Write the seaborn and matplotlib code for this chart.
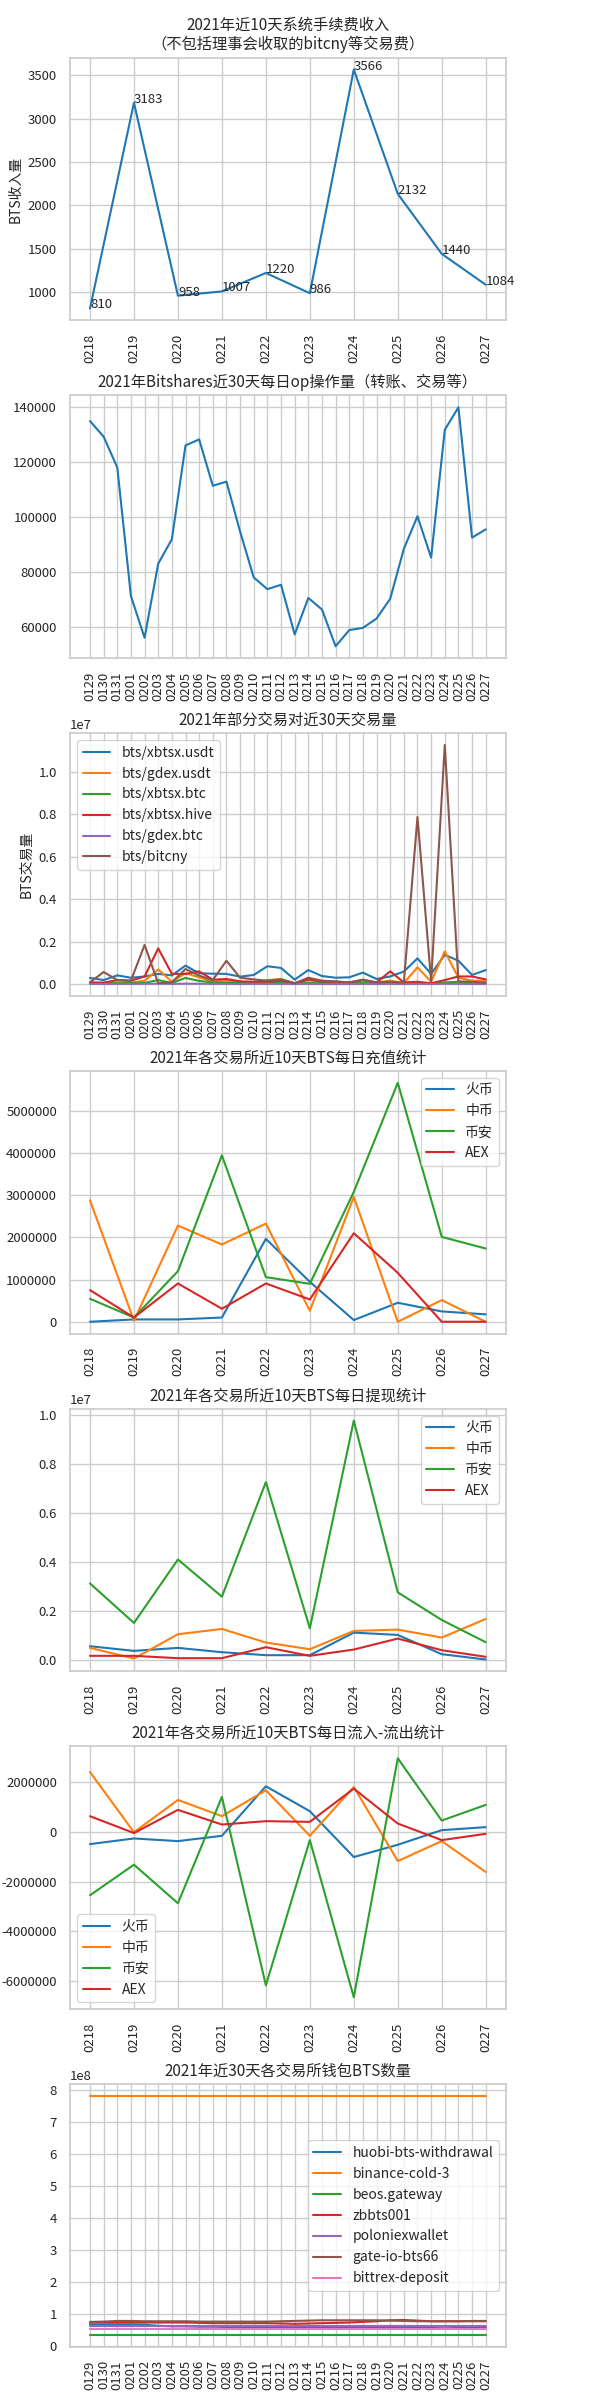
import matplotlib
matplotlib.use("Agg")
import matplotlib.pyplot as plt
import seaborn as sns
import pandas as pd

# ---------------- data ----------------
days10 = ["0218", "0219", "0220", "0221", "0222", "0223", "0224", "0225", "0226", "0227"]
days30 = ["0129", "0130", "0131", "0201", "0202", "0203", "0204", "0205", "0206", "0207",
          "0208", "0209", "0210", "0211", "0212", "0213", "0214", "0215", "0216", "0217",
          "0218", "0219", "0220", "0221", "0222", "0223", "0224", "0225", "0226", "0227"]

fee_income = [810, 3183, 958, 1007, 1220, 986, 3566, 2132, 1440, 1084]

op_count = [135000, 129300, 118100, 71200, 56000, 83000, 91900, 126100, 128300, 111400,
            112900, 94700, 78000, 73700, 75300, 57200, 70500, 66300, 52900, 58800,
            59600, 63000, 70200, 88400, 100300, 85200, 131800, 140000, 92500, 95500]

pair_names = ["bts/xbtsx.usdt", "bts/gdex.usdt", "bts/xbtsx.btc", "bts/xbtsx.hive", "bts/gdex.btc", "bts/bitcny"]
vol_xbtsx_usdt = [300000, 200000, 420000, 310000, 370000, 490000, 420000, 880000, 520000, 500000,
                  490000, 360000, 440000, 850000, 770000, 220000, 670000, 390000, 310000, 330000,
                  550000, 250000, 370000, 600000, 1220000, 490000, 1390000, 1110000, 440000, 670000]
vol_gdex_usdt = [80000, 50000, 90000, 80000, 170000, 700000, 120000, 520000, 330000, 120000,
                 200000, 90000, 100000, 200000, 250000, 50000, 200000, 120000, 90000, 80000,
                 140000, 90000, 170000, 60000, 800000, 120000, 1550000, 310000, 170000, 170000]
vol_xbtsx_btc = [50000, 40000, 50000, 60000, 70000, 200000, 60000, 300000, 160000, 90000,
                 90000, 60000, 70000, 60000, 90000, 30000, 80000, 60000, 50000, 50000,
                 60000, 40000, 50000, 40000, 70000, 40000, 90000, 120000, 60000, 70000]
vol_xbtsx_hive = [90000, 80000, 200000, 170000, 370000, 1690000, 490000, 490000, 610000, 220000,
                  250000, 140000, 120000, 120000, 170000, 50000, 230000, 140000, 120000, 90000,
                  200000, 90000, 610000, 90000, 120000, 50000, 200000, 370000, 370000, 230000]
vol_gdex_btc = [20000, 15000, 20000, 20000, 25000, 30000, 20000, 30000, 25000, 20000,
                20000, 15000, 20000, 20000, 20000, 15000, 20000, 15000, 15000, 15000,
                20000, 15000, 20000, 15000, 20000, 15000, 25000, 20000, 15000, 15000]
vol_bitcny = [90000, 580000, 200000, 170000, 1850000, 50000, 90000, 720000, 410000, 200000,
              1110000, 310000, 230000, 170000, 230000, 50000, 310000, 170000, 140000, 90000,
              220000, 90000, 120000, 80000, 7870000, 140000, 11250000, 140000, 120000, 80000]

exchanges = ["火币", "中币", "币安", "AEX"]
dep_huobi = [0, 55000, 55000, 100000, 1964000, 946000, 40000, 450000, 245000, 175000]
dep_zb = [2878000, 24000, 2279000, 1830000, 2326000, 260000, 2957000, 0, 513000, 0]
dep_binance = [544000, 100000, 1199000, 3943000, 1057000, 899000, 3076000, 5662000, 2011000, 1735000]
dep_aex = [749000, 100000, 907000, 308000, 907000, 528000, 2098000, 1159000, 0, 0]

wd_huobi = [543000, 353000, 475000, 299000, 177000, 177000, 1100000, 1005000, 217000, 0]
wd_zb = [475000, 41000, 1033000, 1250000, 693000, 421000, 1168000, 1223000, 897000, 1658000]
wd_binance = [3111000, 1495000, 4090000, 2568000, 7255000, 1277000, 9770000, 2745000, 1617000, 707000]
wd_aex = [150000, 150000, 54000, 54000, 503000, 150000, 408000, 856000, 380000, 109000]

net_huobi = [-493000, -267000, -373000, -160000, 1827000, 827000, -1013000, -520000, 67000, 187000]
net_zb = [2400000, -17000, 1280000, 627000, 1667000, -160000, 1800000, -1173000, -373000, -1613000]
net_binance = [-2547000, -1320000, -2867000, 1400000, -6160000, -333000, -6640000, 2950000, 453000, 1080000]
net_aex = [627000, -50000, 880000, 293000, 427000, 400000, 1733000, 333000, -333000, -80000]

wallet_names = ["huobi-bts-withdrawal", "binance-cold-3", "beos.gateway", "zbbts001",
                "poloniexwallet", "gate-io-bts66", "bittrex-deposit"]
w_huobi = [6.6e7, 6.6e7, 6.6e7, 6.6e7, 6.5e7, 6.2e7, 6.0e7, 6.0e7, 5.9e7, 5.9e7,
           5.8e7, 5.8e7, 5.8e7, 5.8e7, 5.8e7, 5.8e7, 5.8e7, 5.8e7, 5.8e7, 5.8e7,
           5.8e7, 5.8e7, 5.8e7, 5.8e7, 5.7e7, 5.8e7, 5.9e7, 5.8e7, 5.8e7, 5.8e7]
w_binance = [7.8e8] * 30
w_beos = [3.3e7] * 30
w_zb = [7.2e7, 7.2e7, 7.2e7, 7.2e7, 7.2e7, 7.2e7, 7.2e7, 7.2e7, 7.1e7, 7.0e7,
        7.0e7, 7.0e7, 7.0e7, 7.0e7, 6.9e7, 6.8e7, 6.9e7, 7.0e7, 7.1e7, 7.2e7,
        7.4e7, 7.6e7, 7.9e7, 8.0e7, 7.8e7, 7.6e7, 7.6e7, 7.6e7, 7.6e7, 7.6e7]
w_polo = [6.0e7] * 30
w_gate = [7.4e7, 7.5e7, 7.7e7, 7.7e7, 7.6e7, 7.6e7, 7.6e7, 7.6e7, 7.5e7, 7.5e7,
          7.5e7, 7.5e7, 7.5e7, 7.5e7, 7.6e7, 7.7e7, 7.8e7, 7.9e7, 7.9e7, 7.9e7,
          7.9e7, 7.9e7, 7.8e7, 7.7e7, 7.6e7, 7.6e7, 7.6e7, 7.6e7, 7.7e7, 7.7e7]
w_bittrex = [5.3e7] * 30

# ---------------- style ----------------
sns.set_theme(style="whitegrid")
plt.rcParams["font.family"] = ["Noto Sans CJK SC", "DejaVu Sans"]
plt.rcParams["axes.unicode_minus"] = False

TITLE = 11
TICK = 9.5
LEG = 10

fig, axes = plt.subplots(7, 1, figsize=(6, 24), dpi=100)
fig.subplots_adjust(left=0.117, right=0.8425, top=0.976, bottom=0.0221, hspace=0.285)

pal = sns.color_palette("tab10")


def long_df(x, names, series):
    rows = []
    for n, s in zip(names, series):
        for xi, v in zip(x, s):
            rows.append({"date": xi, "name": n, "value": v})
    return pd.DataFrame(rows)


def finish(ax, title, ylabel=None):
    ax.set_title(title, fontsize=TITLE)
    ax.set_xlabel("")
    ax.set_ylabel(ylabel if ylabel else "", fontsize=10)
    ax.tick_params(axis="x", labelrotation=90, labelsize=TICK)
    ax.tick_params(axis="y", labelsize=TICK)
    ax.yaxis.get_offset_text().set_fontsize(TICK)


# 1. fee income
ax = axes[0]
df1 = pd.DataFrame({"date": days10, "value": fee_income})
sns.lineplot(data=df1, x="date", y="value", ax=ax, color=pal[0], sort=False)
for d, v in zip(days10, fee_income):
    ax.annotate(str(v), (d, v), fontsize=TICK)
finish(ax, "2021年近10天系统手续费收入\n（不包括理事会收取的bitcny等交易费）", "BTS收入量")

# 2. op count
ax = axes[1]
df2 = pd.DataFrame({"date": days30, "value": op_count})
sns.lineplot(data=df2, x="date", y="value", ax=ax, color=pal[0], sort=False)
finish(ax, "2021年Bitshares近30天每日op操作量（转账、交易等）")

# 3. pair volume
ax = axes[2]
df3 = long_df(days30, pair_names, [vol_xbtsx_usdt, vol_gdex_usdt, vol_xbtsx_btc,
                                    vol_xbtsx_hive, vol_gdex_btc, vol_bitcny])
sns.lineplot(data=df3, x="date", y="value", hue="name", ax=ax, palette=pal[:6], sort=False)
ax.legend(loc="upper left", fontsize=LEG, title=None)
finish(ax, "2021年部分交易对近30天交易量", "BTS交易量")

# 4. deposits
ax = axes[3]
df4 = long_df(days10, exchanges, [dep_huobi, dep_zb, dep_binance, dep_aex])
sns.lineplot(data=df4, x="date", y="value", hue="name", ax=ax, palette=pal[:4], sort=False)
ax.legend(loc="upper right", fontsize=LEG, title=None)
ax.ticklabel_format(axis="y", style="plain")
finish(ax, "2021年各交易所近10天BTS每日充值统计")

# 5. withdrawals
ax = axes[4]
df5 = long_df(days10, exchanges, [wd_huobi, wd_zb, wd_binance, wd_aex])
sns.lineplot(data=df5, x="date", y="value", hue="name", ax=ax, palette=pal[:4], sort=False)
ax.legend(loc="upper right", fontsize=LEG, title=None)
finish(ax, "2021年各交易所近10天BTS每日提现统计")

# 6. net flow
ax = axes[5]
df6 = long_df(days10, exchanges, [net_huobi, net_zb, net_binance, net_aex])
sns.lineplot(data=df6, x="date", y="value", hue="name", ax=ax, palette=pal[:4], sort=False)
ax.legend(loc="lower left", fontsize=LEG, title=None)
ax.ticklabel_format(axis="y", style="plain")
finish(ax, "2021年各交易所近10天BTS每日流入-流出统计")

# 7. wallets
ax = axes[6]
df7 = long_df(days30, wallet_names, [w_huobi, w_binance, w_beos, w_zb, w_polo, w_gate, w_bittrex])
sns.lineplot(data=df7, x="date", y="value", hue="name", ax=ax, palette=pal[:7], sort=False)
ax.legend(loc="center right", fontsize=LEG, title=None)
finish(ax, "2021年近30天各交易所钱包BTS数量")

fig.savefig("out.png", dpi=100)
